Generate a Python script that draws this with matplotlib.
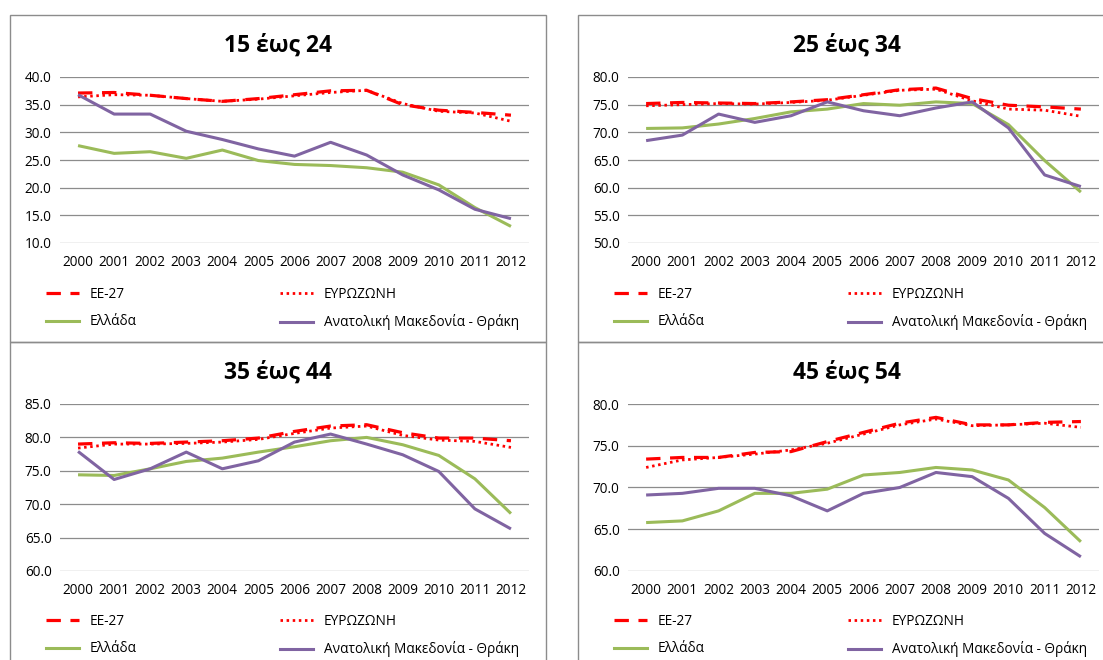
import matplotlib
matplotlib.use("Agg")
import matplotlib.pyplot as plt
from matplotlib.patches import Rectangle
from matplotlib.lines import Line2D

plt.rcParams['font.family'] = ['Open Sans', 'DejaVu Sans']

years = [str(y) for y in range(2000, 2013)]

series_labels = ["ΕΕ-27", "ΕΥΡΩΖΩΝΗ", "Ελλάδα", "Ανατολική Μακεδονία - Θράκη"]

# Age group 15-24
eu27_15_24 = [37.1, 37.2, 36.7, 36.1, 35.6, 36.1, 36.8, 37.5, 37.6, 35.0, 34.0, 33.6, 33.1]
ez_15_24 = [36.4, 36.8, 36.7, 36.1, 35.6, 36.0, 36.6, 37.2, 37.6, 35.2, 33.8, 33.5, 32.0]
gr_15_24 = [27.6, 26.2, 26.5, 25.3, 26.8, 24.9, 24.2, 24.0, 23.6, 22.8, 20.5, 16.4, 13.0]
amth_15_24 = [36.8, 33.3, 33.3, 30.2, 28.7, 27.0, 25.7, 28.2, 25.9, 22.3, 19.6, 16.1, 14.4]

# Age group 25-34
eu27_25_34 = [75.2, 75.4, 75.3, 75.2, 75.5, 75.9, 76.8, 77.7, 78.0, 76.1, 74.9, 74.6, 74.2]
ez_25_34 = [74.8, 75.0, 75.2, 75.1, 75.4, 75.8, 76.7, 77.6, 77.8, 75.7, 74.2, 74.0, 72.9]
gr_25_34 = [70.7, 70.8, 71.5, 72.5, 73.7, 74.2, 75.2, 74.9, 75.5, 75.2, 71.4, 64.9, 59.2]
amth_25_34 = [68.5, 69.5, 73.3, 71.8, 73.0, 75.5, 73.9, 73.0, 74.4, 75.5, 70.8, 62.3, 60.2]

# Age group 35-44
eu27_35_44 = [79.0, 79.2, 79.1, 79.3, 79.5, 79.9, 80.9, 81.7, 81.9, 80.7, 79.9, 79.9, 79.5]
ez_35_44 = [78.4, 79.0, 79.0, 79.1, 79.3, 79.7, 80.6, 81.4, 81.7, 80.3, 79.6, 79.4, 78.5]
gr_35_44 = [74.4, 74.3, 75.3, 76.4, 76.9, 77.8, 78.6, 79.5, 80.0, 78.9, 77.3, 73.8, 68.6]
amth_35_44 = [77.9, 73.7, 75.3, 77.8, 75.3, 76.5, 79.3, 80.5, 79.0, 77.4, 74.9, 69.3, 66.3]

# Age group 45-54
eu27_45_54 = [73.4, 73.6, 73.6, 74.2, 74.3, 75.5, 76.6, 77.7, 78.4, 77.5, 77.5, 77.8, 77.9]
ez_45_54 = [72.4, 73.3, 73.6, 74.0, 74.5, 75.3, 76.4, 77.5, 78.2, 77.4, 77.5, 77.7, 77.2]
gr_45_54 = [65.8, 66.0, 67.2, 69.3, 69.3, 69.8, 71.5, 71.8, 72.4, 72.1, 70.9, 67.6, 63.5]
amth_45_54 = [69.1, 69.3, 69.9, 69.9, 69.0, 67.2, 69.3, 70.0, 71.8, 71.3, 68.7, 64.5, 61.7]

panels = [
    ("15 έως 24", [eu27_15_24, ez_15_24, gr_15_24, amth_15_24], (10, 40)),
    ("25 έως 34", [eu27_25_34, ez_25_34, gr_25_34, amth_25_34], (50, 80)),
    ("35 έως 44", [eu27_35_44, ez_35_44, gr_35_44, amth_35_44], (60, 85)),
    ("45 έως 54", [eu27_45_54, ez_45_54, gr_45_54, amth_45_54], (60, 80)),
]

RED = "#FF0000"
GREEN = "#9BBB59"
PURPLE = "#8064A2"
GRID = "#8C8C8C"
BORDER = "#8C8C8C"

styles = [
    dict(color=RED, lw=2.3, linestyle=(0, (4.5, 3.0))),
    dict(color=RED, lw=2.0, linestyle=(0, (0.9, 1.3))),
    dict(color=GREEN, lw=2.2, linestyle="-"),
    dict(color=PURPLE, lw=2.2, linestyle="-"),
]

W, H = 1103, 660
fig = plt.figure(figsize=(W / 100, H / 100), dpi=100)
fig.patch.set_facecolor("white")


def fx(px):
    return px / W


def fy(py):
    return 1 - py / H


# panel frames: (left, top, right, bottom) in pixels
frames = [(10, 15, 546, 342), (578, 15, 1116, 342),
          (10, 342, 546, 670), (578, 342, 1116, 670)]
# plot areas: (left, top, right, bottom)
plots = [(60, 77, 529, 243), (628, 77, 1099, 243),
         (60, 404, 529, 571), (628, 404, 1099, 571)]

for (title, data, ylim), fr, pa in zip(panels, frames, plots):
    l, t, r, b = fr
    fig.patches.append(Rectangle((fx(l), fy(b)), fx(r - l), (b - t) / H,
                                 transform=fig.transFigure, fill=False,
                                 edgecolor=BORDER, lw=1.0, zorder=0))
    pl, pt, pr, pb = pa
    ax = fig.add_axes([fx(pl), fy(pb), fx(pr - pl), (pb - pt) / H])
    ax.set_facecolor("none")
    x = list(range(len(years)))
    for vals, st in zip(data, styles):
        ax.plot(x, vals, **st, solid_capstyle="butt")
    ax.set_xlim(-0.5, len(years) - 0.5)
    ax.set_ylim(*ylim)
    ax.set_yticks(list(range(ylim[0], ylim[1] + 1, 5)))
    ax.yaxis.set_major_formatter(matplotlib.ticker.FormatStrFormatter("%.1f"))
    ax.set_xticks(x)
    ax.set_xticklabels(years)
    ax.tick_params(axis="both", length=0, labelsize=9.8, colors="#000000")
    ax.tick_params(axis="y", pad=6)
    ax.tick_params(axis="x", pad=9)
    ax.grid(axis="y", color=GRID, lw=0.9)
    ax.set_axisbelow(True)
    for s in ax.spines.values():
        s.set_visible(False)

    cx = (l + r) / 2
    fig.text(fx(cx), fy(t + 31), title, ha="center", va="center",
             fontsize=16.5, fontweight="bold")

    # two-column legend
    for idx, xoff in (((0, 2), 38), ((1, 3), 272)):
        hs = [Line2D([], [], **styles[i]) for i in idx]
        fig.legend(hs, [series_labels[i] for i in idx],
                   loc="upper left",
                   bbox_to_anchor=(fx(l + xoff - 6), fy(t + 268)),
                   bbox_transform=fig.transFigure, frameon=False,
                   fontsize=9.8, handlelength=2.4, handletextpad=0.8,
                   labelspacing=0.9, borderaxespad=0, borderpad=0.3)

fig.savefig("out.png", dpi=100, facecolor="white")
